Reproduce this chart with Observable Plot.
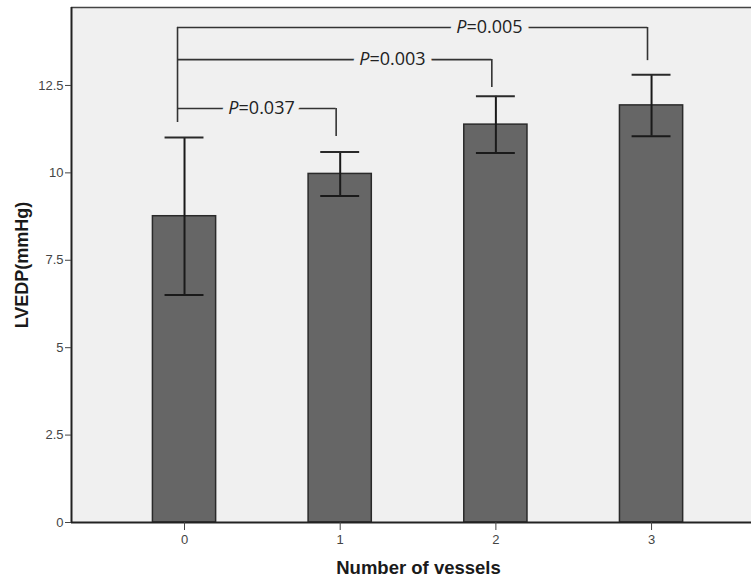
<!DOCTYPE html>
<html>
<head>
<meta charset="utf-8">
<script src="https://cdn.jsdelivr.net/npm/d3@7"></script>
<script src="https://cdn.jsdelivr.net/npm/@observablehq/plot@0.6"></script>
<style>
  html, body { margin: 0; padding: 0; background: #fff; }
</style>
</head>
<body>
<div id="chart"></div>
<script>
// ---- data ----
const categories = [0, 1, 2, 3];
const means = [8.76, 9.97, 11.38, 11.93];
const errors = [2.25, 0.63, 0.81, 0.88];
const yTicks = [0, 2.5, 5, 7.5, 10, 12.5];
const yTickLabels = ["0", "2.5", "5", "7.5", "10", "12.5"];
const xTickLabels = ["0", "1", "2", "3"];
const pFrom = [0, 0, 0];
const pTo = [1, 2, 3];
const pLevel = [11.84, 13.24, 14.16];
const pEnd = [11.04, 12.44, 13.21];
const pBase = 11.44;
const pValues = ["=0.037", "=0.003", "=0.005"];
const pLabelX = [0.347, 1.188, 1.811];
const xTitle = "Number of vessels";
const yTitle = "LVEDP(mmHg)";

const bars = categories.map((c, i) => ({c, mean: means[i], lo: means[i] - errors[i], hi: means[i] + errors[i]}));
const brackets = pFrom.map((f, i) => ({from: f, to: pTo[i], level: pLevel[i], end: pEnd[i], label: pValues[i], lx: pLabelX[i]}));

const bg = "#f0f0f0";
const halfBar = 0.203;
const halfCap = 0.125;

const plot = Plot.plot({
  width: 751,
  height: 581,
  marginLeft: 71,
  marginRight: 0,
  marginTop: 7,
  marginBottom: 59,
  style: {fontFamily: "'Liberation Sans', Arial, sans-serif", background: "#fff"},
  x: {type: "linear", domain: [-0.726, 3.642], axis: null},
  y: {domain: [0, 14.73], axis: null},
  marks: [
    Plot.frame({fill: bg, stroke: null}),
    // bars
    Plot.rectY(bars, {x1: d => d.c - halfBar, x2: d => d.c + halfBar, y1: 0, y2: "mean", fill: "#666666", stroke: "#2a2a2a", strokeWidth: 1.5}),
    // error bars
    Plot.ruleX(bars, {x: "c", y1: "lo", y2: "hi", stroke: "#1a1a1a", strokeWidth: 2}),
    Plot.ruleY(bars, {y: "hi", x1: d => d.c - halfCap, x2: d => d.c + halfCap, stroke: "#2a2a2a", strokeWidth: 2}),
    Plot.ruleY(bars, {y: "lo", x1: d => d.c - halfCap, x2: d => d.c + halfCap, stroke: "#1a1a1a", strokeWidth: 2}),
    // significance brackets
    Plot.ruleX([pFrom[0]], {x: d => d, y1: pBase, y2: d3.max(pLevel), dx: -7, stroke: "#333", strokeWidth: 1.6}),
    Plot.ruleY(brackets, {y: "level", x1: d => d.from - 0.045, x2: d => d.to - 0.026, stroke: "#333", strokeWidth: 1.6}),
    Plot.ruleX(brackets, {x: d => d.to - 0.026, y1: "end", y2: "level", stroke: "#333", strokeWidth: 1.6}),
    // halos to open gaps in bracket lines
    Plot.text(brackets, {x: "lx", y: "level", text: () => "P", textAnchor: "end", fontStyle: "italic", fontFamily: "'Open Sans', sans-serif", fontSize: 18, fill: bg, stroke: bg, strokeWidth: 14}),
    Plot.text(brackets, {x: "lx", y: "level", text: "label", textAnchor: "start", fontFamily: "'Open Sans', sans-serif", fontSize: 18, fill: bg, stroke: bg, strokeWidth: 14}),
    Plot.text(brackets, {x: "lx", y: "level", text: () => "P", textAnchor: "end", fontStyle: "italic", fontFamily: "'Open Sans', sans-serif", fontSize: 18, fill: "#222"}),
    Plot.text(brackets, {x: "lx", y: "level", text: "label", textAnchor: "start", fontFamily: "'Open Sans', sans-serif", fontSize: 18, fill: "#222"}),
    // frame lines
    Plot.ruleY([14.73], {stroke: "#444", strokeWidth: 1.5}),
    Plot.ruleX([-0.726], {stroke: "#222", strokeWidth: 2}),
    Plot.ruleY([0], {stroke: "#222", strokeWidth: 2}),
    // axes
    Plot.axisY({ticks: yTicks, tickFormat: (d) => yTickLabels[yTicks.indexOf(d)], tickSize: 6, tickPadding: 2, fontSize: 13, color: "#444", label: null}),
    Plot.axisX({ticks: categories, tickFormat: d => xTickLabels[categories.indexOf(d)], tickSize: 8, tickPadding: 4, fontSize: 13, color: "#444", label: null}),
    Plot.text([yTitle], {frameAnchor: "left", textAnchor: "middle", lineAnchor: "middle", dx: -49, rotate: -90, fontSize: 18, fontWeight: "bold", fill: "#1a1a1a"}),
    Plot.text([xTitle], {frameAnchor: "bottom", textAnchor: "middle", lineAnchor: "middle", dx: 7, dy: 46, fontSize: 18.5, fontWeight: "bold", fill: "#1a1a1a"})
  ]
});
document.getElementById("chart").appendChild(plot);
</script>
</body>
</html>
